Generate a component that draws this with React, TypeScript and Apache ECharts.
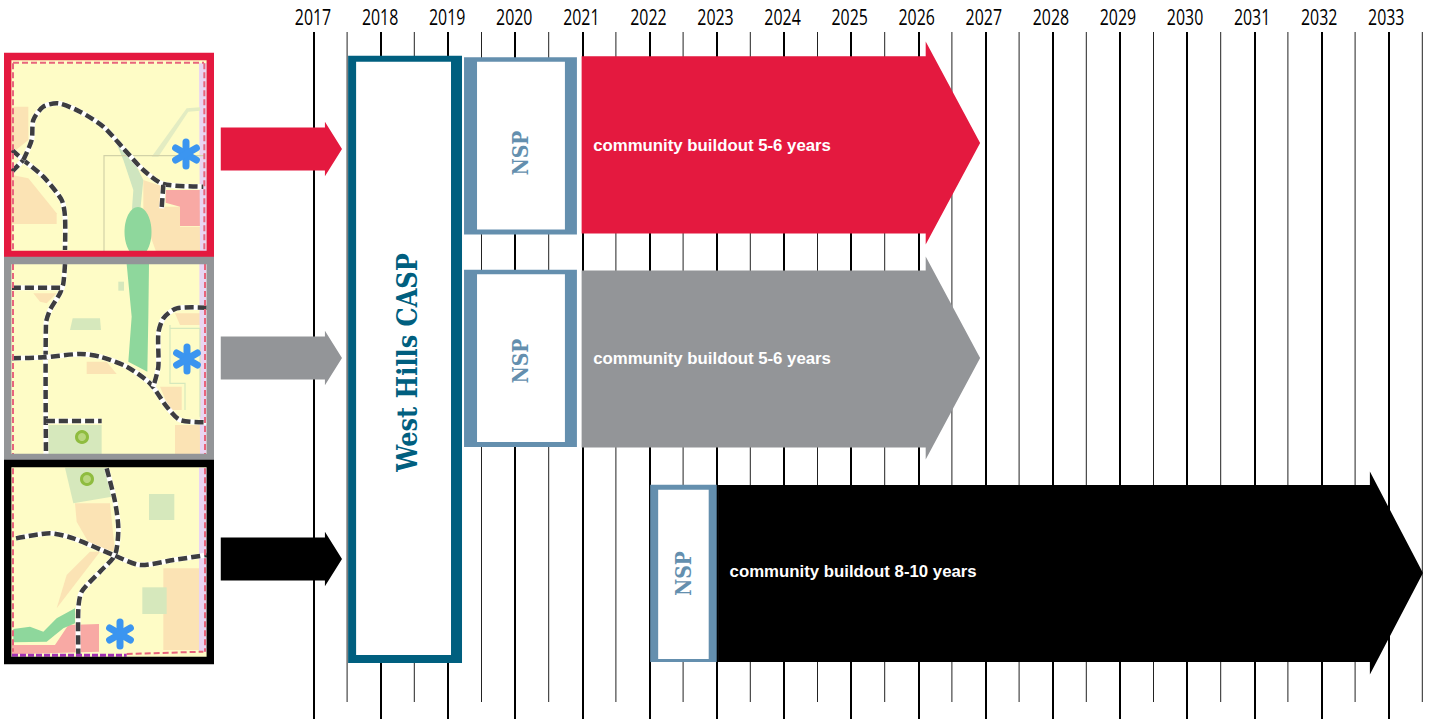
import React, { useEffect, useRef } from "react";
import * as echarts from "echarts";

const years = [2017, 2018, 2019, 2020, 2021, 2022, 2023, 2024, 2025, 2026, 2027, 2028, 2029, 2030, 2031, 2032, 2033];
const halfYears = [2017.5, 2018.5, 2019.5, 2020.5, 2021.5, 2022.5, 2023.5, 2024.5, 2025.5, 2026.5, 2027.5, 2028.5, 2029.5, 2030.5, 2031.5, 2032.5, 2033.5];

const buildoutRows = [0, 1, 2];
const buildoutStarts = [2020.99, 2020.99, 2023.02];
const buildoutNotches = [2026.11, 2026.11, 2032.72];
const buildoutTips = [2026.92, 2026.92, 2033.51];
const buildoutLabels = ["community buildout 5-6 years", "community buildout 5-6 years", "community buildout 8-10 years"];

const nspRows = [0.014, 1.002, 2.002];
const nspStarts = [2019.24, 2019.24, 2022.01];
const nspEnds = [2020.92, 2020.92, 2023.0];

const caspStart = 2017.515;
const caspEnd = 2019.21;
const caspRowTop = -0.405;
const caspRowBottom = 2.419;

const pointerRows = [0.028, 1, 1.935];
const pointerStart = 2015.62;
const pointerNotch = 2017.17;
const pointerTip = 2017.424;

const RED = "#e4193f";
const GREY = "#939598";
const BLACK = "#000000";
const TEAL = "#005f7f";
const STEEL = "#648fae";
const rowColors = [RED, GREY, BLACK];
const bodyShift = [0.0093, 0.0047, 0.0023];
const labelShift = [3, 1, -1];
const nspBorders = [
  { l: 13, r: 12, t: 4.5, b: 5 },
  { l: 13, r: 12, t: 4.5, b: 5 },
  { l: 8, r: 8, t: 5, b: 3 },
];
const nspTextShift = [7, 2.5, 0];

// ---- decorative map thumbnails ----
type P = [number, number];
const CREAM = "#fefcc6";
const PEACH = "#fbe3b4";
const PALE = "#d6e8bc";
const GREEN = "#8ed79c";
const HATCH = "#f8a9a4";
const LAV = "#e9d5f2";
const BLUE = "#3b95f0";

const z = (pts: P[], yo: number) => pts.map(([x, y]) => [x / 3, y / 3 + yo]);
const poly = (pts: P[], yo: number, fill: string) => ({ type: "polygon", silent: true, shape: { points: z(pts, yo) }, style: { fill } });
const road = (pts: P[], yo: number) => [
  { type: "polyline", silent: true, shape: { points: z(pts, yo), smooth: 0.25 }, style: { stroke: "#ffffff", lineWidth: 5, fill: null } },
  { type: "polyline", silent: true, shape: { points: z(pts, yo), smooth: 0.25 }, style: { stroke: "#3d3d40", lineWidth: 4.5, fill: null, lineDash: [9, 4] } },
];
const dash = (pts: P[], yo: number, stroke: string) => ({
  type: "polyline", silent: true, shape: { points: z(pts, yo) }, style: { stroke, lineWidth: 2, fill: null, lineDash: [6, 3] },
});
const thin = (pts: P[], yo: number, stroke: string) => ({
  type: "polyline", silent: true, shape: { points: z(pts, yo) }, style: { stroke, lineWidth: 1.2, fill: null },
});
const star = (cx: number, cy: number) => [0, 60, 120].map((a) => {
  const r = 12;
  const t = (a * Math.PI) / 180;
  return {
    type: "line", silent: true,
    shape: { x1: cx - r * Math.sin(t), y1: cy - r * Math.cos(t), x2: cx + r * Math.sin(t), y2: cy + r * Math.cos(t) },
    style: { stroke: BLUE, lineWidth: 7, lineCap: "round" },
  };
});
const ring = (cx: number, cy: number) => ({
  type: "circle", silent: true, shape: { cx, cy, r: 5.5 }, style: { fill: "#b9d77e", stroke: "#8fbc3f", lineWidth: 3 },
});
const frame = (y0: number, y1: number, stroke: string) => ({
  type: "rect", silent: true, shape: { x: 7.7, y: y0 + 3.5, width: 202.6, height: y1 - y0 - 7 }, style: { fill: null, stroke, lineWidth: 7.4 },
});
const base = (y0: number, y1: number) => ({
  type: "rect", silent: true, shape: { x: 4, y: y0, width: 210, height: y1 - y0 }, style: { fill: CREAM },
});

function mapElements(): any[] {
  const e: any[] = [];
  // red map
  let yo = 0;
  e.push(base(53, 258));
  e.push(poly([[36, 320], [85, 320], [85, 420], [36, 460]], yo, PEACH));
  e.push(poly([[36, 525], [85, 535], [170, 640], [170, 672], [36, 672]], yo, PEACH));
  e.push(poly([[430, 540], [490, 560], [490, 620], [540, 620], [540, 680], [610, 680], [610, 760], [470, 760], [430, 650]], yo, PEACH));
  e.push(poly([[497, 570], [610, 570], [610, 678], [540, 678], [540, 620], [497, 608]], yo, HATCH));
  e.push(poly([[597, 190], [620, 190], [620, 755], [600, 755]], yo, LAV));
  e.push(poly([[345, 420], [385, 450], [430, 540], [420, 640], [395, 640], [400, 570], [370, 480]], yo, "#cfe5bf"));
  e.push(poly([[455, 470], [560, 325], [600, 322], [600, 332], [565, 335], [475, 470]], yo, "#e3ecc2"));
  e.push({ type: "ellipse", silent: true, shape: { cx: 138, cy: 232, rx: 13.5, ry: 25 }, style: { fill: GREEN } });
  e.push(thin([[312, 755], [312, 467], [612, 467]], yo, "#d2d2a8"));
  e.push(...road([[36, 450], [70, 480], [130, 530], [185, 600], [195, 650], [195, 750]], yo));
  e.push(...road([[36, 515], [70, 480]], yo));
  e.push(...road([[70, 480], [95, 420], [100, 360], [130, 320], [175, 310], [240, 335], [310, 380], [370, 445], [430, 510], [490, 552], [610, 560]], yo));
  e.push(...road([[490, 555], [485, 625]], yo));
  e.push(dash([[39, 190], [39, 750]], yo, "#e8647c"));
  e.push(dash([[39, 188], [612, 188]], yo, "#e8647c"));
  e.push(dash([[613, 190], [613, 750]], yo, "#e8647c"));
  e.push(...star(186, 154));

  // grey map
  yo = 250;
  e.push(base(257, 460));
  e.push(poly([[100, 130], [170, 130], [140, 160], [120, 155]], yo, PEACH));
  e.push(poly([[260, 335], [320, 335], [350, 372], [260, 372]], yo, PEACH));
  e.push(poly([[525, 190], [605, 190], [605, 225], [540, 225]], yo, PEACH));
  e.push(poly([[480, 410], [545, 410], [545, 480], [510, 480]], yo, PEACH));
  e.push(poly([[525, 525], [610, 525], [610, 615], [525, 615]], yo, PEACH));
  e.push(poly([[380, 42], [447, 42], [445, 200], [442, 365], [385, 335], [395, 200]], yo, GREEN));
  e.push(poly([[145, 525], [305, 525], [305, 615], [145, 615]], yo, PALE));
  e.push(poly([[218, 205], [300, 205], [303, 240], [210, 240]], yo, PALE));
  e.push(poly([[355, 95], [372, 95], [372, 122], [355, 122]], yo, PALE));
  e.push(poly([[598, 42], [620, 42], [620, 615], [600, 615]], yo, LAV));
  e.push(thin([[510, 225], [510, 400], [555, 400], [555, 480]], yo, "#d6e8bc"));
  e.push(thin([[510, 235], [600, 235], [600, 500]], yo, "#d6e8bc"));
  e.push(...road([[195, 42], [190, 100], [180, 130], [150, 180], [138, 220], [138, 615]], yo));
  e.push(...road([[36, 113], [185, 113]], yo));
  e.push(...road([[36, 325], [130, 322], [240, 312], [300, 320], [380, 350], [450, 400], [500, 470], [540, 510], [620, 517]], yo));
  e.push(...road([[620, 173], [530, 175], [490, 205], [475, 250], [475, 350], [460, 410]], yo));
  e.push(...road([[138, 513], [305, 513]], yo));
  e.push(dash([[39, 42], [39, 615]], yo, "#e8647c"));
  e.push(dash([[615, 42], [615, 615]], yo, "#e8647c"));
  e.push(ring(82, 437));
  e.push(...star(187, 359));

  // black map
  yo = 455;
  e.push(base(460, 664));
  e.push(poly([[225, 145], [330, 145], [345, 290], [270, 270], [230, 200]], yo, PEACH));
  e.push(poly([[300, 290], [170, 460], [200, 360], [270, 290]], yo, PEACH));
  e.push(poly([[490, 340], [597, 340], [597, 585], [490, 585]], yo, PEACH));
  e.push(poly([[195, 38], [320, 38], [335, 125], [220, 145]], yo, PALE));
  e.push(poly([[447, 117], [523, 117], [523, 195], [447, 195]], yo, PALE));
  e.push(poly([[427, 397], [500, 397], [500, 477], [427, 477]], yo, PALE));
  e.push(poly([[597, 38], [620, 38], [620, 590], [597, 590]], yo, LAV));
  e.push(poly([[36, 570], [165, 570], [205, 510], [297, 507], [297, 590], [36, 598]], yo, HATCH));
  e.push(poly([[40, 522], [90, 515], [130, 530], [170, 490], [225, 460], [225, 505], [190, 520], [140, 560], [40, 562]], yo, GREEN));
  e.push(...road([[320, 40], [345, 140], [355, 220], [345, 300], [300, 350], [245, 410], [235, 460], [235, 600]], yo));
  e.push(...road([[48, 250], [150, 235], [220, 250], [340, 300], [420, 330], [520, 315], [620, 300]], yo));
  e.push(dash([[39, 40], [39, 590]], yo, "#e8647c"));
  e.push(dash([[615, 40], [615, 590]], yo, "#e8647c"));
  e.push(dash([[380, 597], [610, 590]], yo, "#e8647c"));
  e.push({ ...dash([[36, 601], [380, 601]], yo, "#a332b4"), style: { stroke: "#a332b4", lineWidth: 3, fill: null, lineDash: [6, 2] } });
  e.push(ring(87, 479));
  e.push(...star(120, 634));

  e.push(frame(53, 258, RED));
  e.push(frame(257, 461, GREY));
  e.push(frame(460, 664, BLACK));
  return e;
}

// ---- custom series renderers ----
const arrowPoints = (api: any, x0: number, xn: number, xt: number, row: number, hb: number, hh: number, shift = 0) => {
  const c = (x: number, r: number) => api.coord([x, r]);
  return [
    c(x0, row - hb + shift), c(xn, row - hb + shift), c(xn, row - hh), c(xt, row),
    c(xn, row + hh), c(xn, row + hb + shift), c(x0, row + hb + shift),
  ];
};

export default function App() {
  const ref = useRef<HTMLDivElement>(null);
  useEffect(() => {
    document.body.style.margin = "0";
    const chart = echarts.init(ref.current!, undefined, { renderer: "svg" });
    chart.setOption({
      animation: false,
      backgroundColor: "#ffffff",
      grid: { left: 313.5, right: 8.7, top: 32, bottom: 0 },
      xAxis: {
        type: "value",
        position: "top",
        min: years[0],
        max: halfYears[halfYears.length - 1],
        interval: 1,
        axisLine: { show: false },
        axisTick: { show: false },
        axisLabel: { show: false },
        splitLine: { show: true, showMaxLine: false, lineStyle: { color: "#000", width: 2 } },
      },
      yAxis: { type: "value", inverse: true, min: -0.516, max: 2.679, show: false, splitLine: { show: false } },
      graphic: { elements: mapElements() },
      series: [
        {
          // condensed year labels above the lines
          type: "custom",
          z: 2,
          silent: true,
          clip: false,
          data: years.map((v) => [v]),
          renderItem: (_p: any, api: any) => {
            const v = api.value(0);
            const a = api.coord([v, -0.516]);
            return {
              type: "text",
              x: a[0] - 0.5 - (v - 2017) * 0.12,
              y: 17.5,
              scaleX: 0.74,
              style: {
                text: String(v),
                fill: "#000",
                font: "21.5px 'Open Sans', sans-serif",
                align: "center",
                verticalAlign: "middle",
              },
            };
          },
        },
        {
          // half-year lines
          type: "custom",
          z: 1,
          silent: true,
          data: halfYears.map((v) => [v]),
          renderItem: (_p: any, api: any) => {
            const x = api.value(0);
            const a = api.coord([x, -0.516]);
            const b = api.coord([x, 2.6]);
            return { type: "line", shape: { x1: a[0], y1: a[1], x2: b[0], y2: b[1] }, style: { stroke: "#222", lineWidth: 1 } };
          },
        },
        {
          // small pointer arrows
          type: "custom",
          z: 3,
          silent: true,
          clip: false,
          data: pointerRows.map((r, i) => [i, r]),
          renderItem: (_p: any, api: any) => {
            const i = api.value(0);
            return {
              type: "polygon",
              shape: { points: arrowPoints(api, pointerStart, pointerNotch, pointerTip, api.value(1), 0.1, 0.127) },
              style: { fill: rowColors[i] },
            };
          },
        },
        {
          // buildout arrows
          type: "custom",
          z: 3,
          silent: true,
          data: buildoutRows.map((r, i) => [i, r]),
          renderItem: (_p: any, api: any) => {
            const i = api.value(0);
            const row = api.value(1);
            const start = api.coord([buildoutStarts[i], row]);
            return {
              type: "group",
              children: [
                {
                  type: "polygon",
                  shape: { points: arrowPoints(api, buildoutStarts[i], buildoutNotches[i], buildoutTips[i], row, 0.412, 0.472, bodyShift[i]) },
                  style: { fill: rowColors[i] },
                },
                {
                  type: "text",
                  x: start[0] + 11.5,
                  y: start[1] + labelShift[i],
                  style: {
                    text: buildoutLabels[i],
                    fill: "#fff",
                    font: "bold 16.8px 'Liberation Sans', Arial, sans-serif",
                    align: "left",
                    verticalAlign: "middle",
                  },
                },
              ],
            };
          },
        },
        {
          // NSP boxes
          type: "custom",
          z: 4,
          silent: true,
          data: nspRows.map((r, i) => [i, r]),
          renderItem: (_p: any, api: any) => {
            const i = api.value(0);
            const row = api.value(1);
            const a = api.coord([nspStarts[i], row - 0.412]);
            const b = api.coord([nspEnds[i], row + 0.412]);
            const bd = nspBorders[i];
            const cx = (a[0] + bd.l + b[0] - bd.r) / 2;
            return {
              type: "group",
              children: [
                { type: "rect", shape: { x: a[0], y: a[1], width: b[0] - a[0], height: b[1] - a[1] }, style: { fill: STEEL } },
                {
                  type: "rect",
                  shape: { x: a[0] + bd.l, y: a[1] + bd.t, width: b[0] - a[0] - bd.l - bd.r, height: b[1] - a[1] - bd.t - bd.b },
                  style: { fill: "#fff" },
                },
                {
                  type: "text",
                  x: cx,
                  y: (a[1] + b[1]) / 2 + nspTextShift[i],
                  rotation: Math.PI / 2,
                  scaleX: 0.87,
                  style: {
                    text: "NSP",
                    fill: STEEL,
                    font: "bold 21.5px 'DejaVu Serif', serif",
                    align: "center",
                    verticalAlign: "middle",
                  },
                },
              ],
            };
          },
        },
        {
          // West Hills CASP box
          type: "custom",
          z: 4,
          silent: true,
          data: [[caspStart, caspRowTop, caspEnd, caspRowBottom]],
          renderItem: (_p: any, api: any) => {
            const a = api.coord([api.value(0), api.value(1)]);
            const b = api.coord([api.value(2), api.value(3)]);
            return {
              type: "group",
              children: [
                { type: "rect", shape: { x: a[0], y: a[1], width: b[0] - a[0], height: b[1] - a[1] }, style: { fill: TEAL } },
                { type: "rect", shape: { x: a[0] + 8, y: a[1] + 6, width: b[0] - a[0] - 19, height: b[1] - a[1] - 14 }, style: { fill: "#fff" } },
                {
                  type: "text",
                  x: (a[0] + 8 + b[0] - 11) / 2 + 4,
                  y: 362.5,
                  rotation: Math.PI / 2,
                  scaleX: 0.89,
                  style: {
                    text: "West Hills CASP",
                    fill: TEAL,
                    font: "bold 27px 'DejaVu Serif', serif",
                    align: "center",
                    verticalAlign: "middle",
                  },
                },
              ],
            };
          },
        },
      ],
    });
    return () => chart.dispose();
  }, []);
  return <div ref={ref} style={{ position: "fixed", left: 0, top: 0, width: 1431, height: 719 }} />;
}
